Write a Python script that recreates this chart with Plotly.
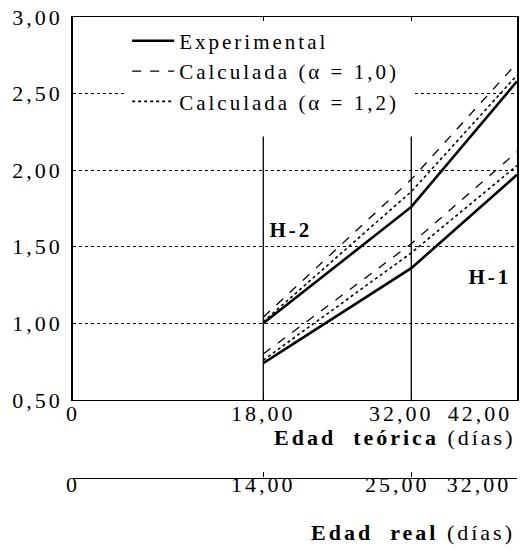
import plotly.graph_objects as go

# Edades de ensayo: teórica (eje principal) y real equivalente (eje secundario)
edad_teorica = [18, 32, 42]
edad_real = [14, 25, 32]

# Hormigón H-2
exp_h2 = [1.00, 1.76, 2.58]
calc10_h2 = [1.04, 1.94, 2.70]
calc12_h2 = [1.01, 1.86, 2.62]

# Hormigón H-1
exp_h1 = [0.74, 1.36, 1.97]
calc10_h1 = [0.80, 1.52, 2.12]
calc12_h1 = [0.76, 1.46, 2.03]

x_ticks = [0, 18, 32, 42]
x_ticktext = ["0", "18,00", "32,00", "42,00"]
real_ticktext = ["0", "14,00", "25,00", "32,00"]
y_ticks = [0.5, 1.0, 1.5, 2.0, 2.5, 3.0]
y_ticktext = ["0,50", "1,00", "1,50", "2,00", "2,50", "3,00"]

# Separadores verticales entre edades
separadores = [18, 32]
separador_top = 2.22

FONT = "Liberation Serif, Times New Roman, serif"
FS = 22

fig = go.Figure()

series = [
    ("Experimental", exp_h2, exp_h1, dict(color="black", width=2.6, dash="solid")),
    ("Calculada (α = 1,0)", calc10_h2, calc10_h1, dict(color="black", width=1.3, dash="dash")),
    ("Calculada (α = 1,2)", calc12_h2, calc12_h1, dict(color="black", width=1.6, dash="dot")),
]

for sx in separadores:
    fig.add_trace(go.Scatter(
        x=[sx, sx], y=[0.5, separador_top], mode="lines",
        line=dict(color="black", width=1.3), showlegend=False, hoverinfo="skip"))

for name, h2, h1, line in series:
    fig.add_trace(go.Scatter(
        x=edad_teorica, y=h2, mode="lines", name=name, legendgroup=name,
        line=line, showlegend=True))
    fig.add_trace(go.Scatter(
        x=edad_teorica, y=h1, mode="lines", name=name, legendgroup=name,
        line=line, showlegend=False))

# Traza auxiliar para el eje de edad real
fig.add_trace(go.Scatter(
    x=edad_teorica, y=exp_h1, xaxis="x2", mode="lines",
    line=dict(color="rgba(0,0,0,0)"), showlegend=False, hoverinfo="skip"))

fig.add_annotation(x=20.6, y=1.61, text="<b>H-2</b>", showarrow=False,
                   font=dict(family=FONT, size=21, color="black"))
fig.add_annotation(x=39.4, y=1.30, text="<b>H-1</b>", showarrow=False,
                   font=dict(family=FONT, size=21, color="black"))

fig.add_annotation(x=1.0, xref="paper", y=0.182, yref="paper", xanchor="right",
                   yanchor="middle", align="right", showarrow=False,
                   text="<b>Edad  teórica</b> (días)",
                   font=dict(family=FONT, size=FS, color="black"))
fig.add_annotation(x=1.0, xref="paper", y=-0.003, yref="paper", xanchor="right",
                   yanchor="middle", align="right", showarrow=False,
                   text="<b>Edad  real</b> (días)",
                   font=dict(family=FONT, size=FS, color="black"))

fig.update_layout(
    width=524, height=551,
    margin=dict(l=73, r=7, t=17, b=20),
    paper_bgcolor="white", plot_bgcolor="white",
    font=dict(family=FONT, size=FS, color="black"),
    showlegend=True,
    legend=dict(x=0.122, y=0.993, xanchor="left", yanchor="top",
                bgcolor="white", borderwidth=0,
                font=dict(family=FONT, size=21, color="black"),
                tracegroupgap=0, itemwidth=42),
    xaxis=dict(range=[0, 42], tickvals=x_ticks, ticktext=x_ticktext,
               showgrid=False, zeroline=False, showline=True,
               linecolor="black", linewidth=1.2, mirror="allticks",
               ticks="inside", ticklen=5, tickcolor="black",
               tickfont=dict(family=FONT, size=FS), ticklabelstandoff=-6,
               ticklabeloverflow="allow", automargin=False),
    xaxis2=dict(range=[0, 42], tickvals=x_ticks, ticktext=real_ticktext,
                overlaying="x", anchor="free", position=0.104, side="bottom",
                showgrid=False, zeroline=False, showline=True,
                linecolor="black", linewidth=1.2, ticks="inside", ticklen=5,
                tickcolor="black", tickfont=dict(family=FONT, size=FS),
                ticklabelstandoff=-13, ticklabeloverflow="allow",
                automargin=False),
    yaxis=dict(range=[0.5, 3.0], domain=[0.255, 1.0], tickvals=y_ticks,
               ticktext=y_ticktext, showgrid=True, gridcolor="black",
               gridwidth=1.2, griddash="dot", zeroline=False, showline=True,
               linecolor="black", linewidth=1.5, mirror=True, ticks="",
               tickfont=dict(family=FONT, size=FS), ticklabelstandoff=4,
               automargin=False),
)

# Espaciado de letras amplio en todos los textos; la caja de la leyenda
# se ensancha para cubrir el texto espaciado y las últimas etiquetas del
# eje x se desplazan a la izquierda para que quepan junto al borde.
spacing_js = """
var gd = document.getElementById('{plot_id}');
gd.querySelectorAll('svg text').forEach(function(t){
    t.style.letterSpacing = '3px';
});
var lg = gd.querySelector('g.legend');
if (lg) {
    var bg = lg.querySelector('rect.bg');
    if (bg) { bg.setAttribute('width', 285); }
    var sb = lg.querySelector('g.scrollbox');
    if (sb) { sb.removeAttribute('clip-path'); }
}
var shifts = {xtick: [0, 0, -10, -37], x2tick: [0, 0, -14, -38]};
Object.keys(shifts).forEach(function(cls){
    gd.querySelectorAll('g.' + cls + ' > text').forEach(function(t, i){
        if (shifts[cls][i]) { t.setAttribute('dx', shifts[cls][i]); }
    });
});
"""

fig.write_html("out.html", post_script=spacing_js)
